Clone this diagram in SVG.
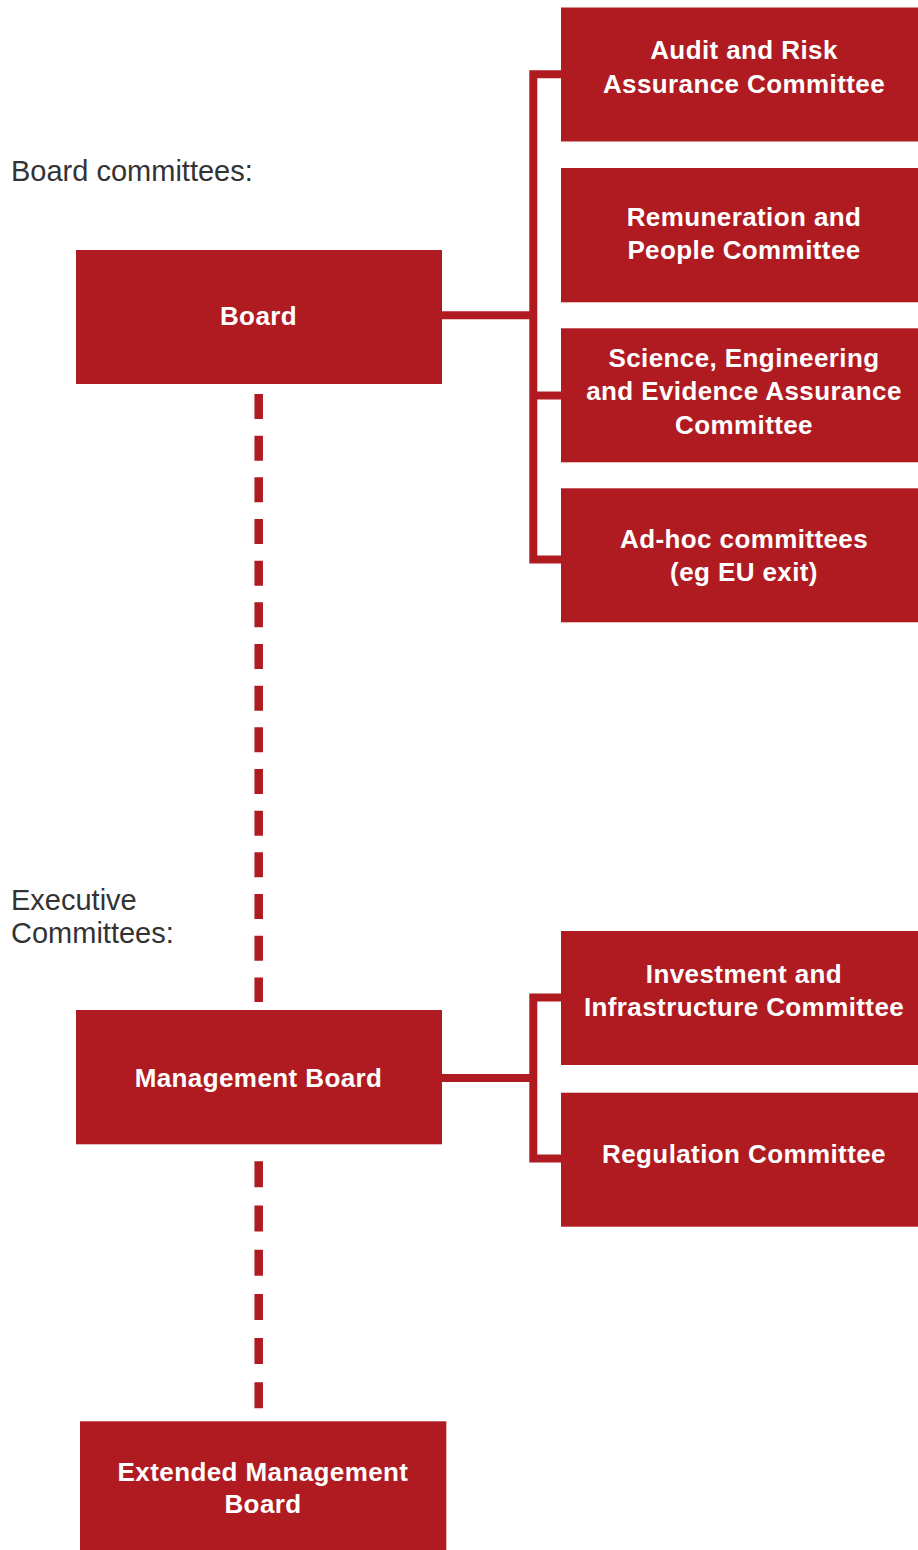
<svg xmlns="http://www.w3.org/2000/svg" width="918" height="1550" viewBox="0 0 918 1550">
<style>
.box{fill:#B01B22}
.t{font-family:"Liberation Sans",Arial,sans-serif;font-weight:bold;font-size:26px;letter-spacing:0.4px;fill:#ffffff;text-anchor:middle}
.lbl{font-family:"Liberation Sans",Arial,sans-serif;font-size:29px;fill:#333333}
.br{fill:none;stroke:#B01B22;stroke-width:8;stroke-linejoin:miter;stroke-linecap:butt}
.dash1{fill:none;stroke:#B01B22;stroke-width:8.5;stroke-dasharray:25 16.67}
.dash2{fill:none;stroke:#B01B22;stroke-width:8.5;stroke-dasharray:26 18.2}
</style>
<rect width="918" height="1550" fill="#ffffff"/>
<text class="lbl" x="11" y="181">Board committees:</text>
<text class="lbl" x="11" y="909.5">Executive</text>
<text class="lbl" x="11" y="943">Committees:</text>
<g id="connectors">
<path class="br" d="M561,74.2 H533.3 V559.5 H561"/>
<path class="br" d="M442,315.2 H533.3"/>
<path class="br" d="M533.3,395.5 H561"/>
<path class="br" d="M561,997.5 H533.3 V1158.5 H561"/>
<path class="br" d="M442,1078 H533.3"/>
<path class="dash1" d="M258.7,394 V1002"/>
<path class="dash2" d="M258.7,1161.3 V1408.3"/>
</g>
<g id="board">
<rect class="box" x="76" y="250" width="366" height="134"/>
<text class="t" x="258.5" y="324.5">Board</text>
</g>
<g id="audit">
<rect class="box" x="561" y="7.5" width="357" height="134"/>
<text class="t" x="744" y="59.3">Audit and Risk</text>
<text class="t" x="744" y="92.7">Assurance Committee</text>
</g>
<g id="remuneration">
<rect class="box" x="561" y="168" width="357" height="134.3"/>
<text class="t" x="744" y="226">Remuneration and</text>
<text class="t" x="744" y="259.3">People Committee</text>
</g>
<g id="science">
<rect class="box" x="561" y="328.3" width="357" height="134"/>
<text class="t" x="744" y="367.3">Science, Engineering</text>
<text class="t" x="744" y="400.3">and Evidence Assurance</text>
<text class="t" x="744" y="433.5">Committee</text>
</g>
<g id="adhoc">
<rect class="box" x="561" y="488.3" width="357" height="134"/>
<text class="t" x="744" y="547.5">Ad-hoc committees</text>
<text class="t" x="744" y="580.5">(eg EU exit)</text>
</g>
<g id="management">
<rect class="box" x="76" y="1010" width="366" height="134.3"/>
<text class="t" x="258.5" y="1087">Management Board</text>
</g>
<g id="investment">
<rect class="box" x="561" y="931" width="357" height="134"/>
<text class="t" x="744" y="983.3">Investment and</text>
<text class="t" x="744" y="1016.3">Infrastructure Committee</text>
</g>
<g id="regulation">
<rect class="box" x="561" y="1092.7" width="357" height="134"/>
<text class="t" x="744" y="1163.3">Regulation Committee</text>
</g>
<g id="extended">
<rect class="box" x="80" y="1421.3" width="366.3" height="128.7"/>
<text class="t" x="263" y="1480.7">Extended Management</text>
<text class="t" x="263" y="1513">Board</text>
</g>
</svg>
